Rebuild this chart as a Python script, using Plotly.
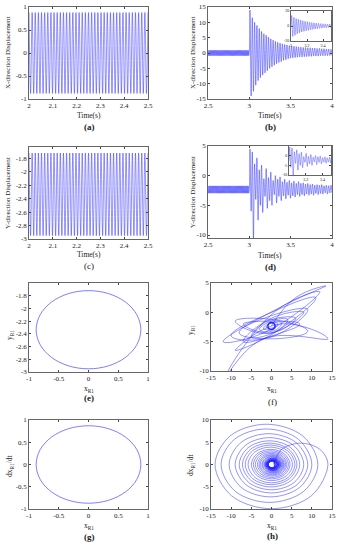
import plotly.graph_objects as go

# ---------------- data ----------------
# steady-state extremum times (2.0 - 2.5 s)
T_SS = [2.0000, 2.0066, 2.0132, 2.0197, 2.0263, 2.0329, 2.0395, 2.0461, 2.0526, 2.0592,
        2.0658, 2.0724, 2.0790, 2.0855, 2.0921, 2.0987, 2.1053, 2.1119, 2.1184, 2.1250,
        2.1316, 2.1382, 2.1448, 2.1513, 2.1579, 2.1645, 2.1711, 2.1777, 2.1842, 2.1908,
        2.1974, 2.2040, 2.2106, 2.2171, 2.2237, 2.2303, 2.2369, 2.2435, 2.2500, 2.2566,
        2.2632, 2.2698, 2.2764, 2.2829, 2.2895, 2.2961, 2.3027, 2.3093, 2.3158, 2.3224,
        2.3290, 2.3356, 2.3422, 2.3487, 2.3553, 2.3619, 2.3685, 2.3751, 2.3816, 2.3882,
        2.3948, 2.4014, 2.4080, 2.4145, 2.4211, 2.4277, 2.4343, 2.4409, 2.4474, 2.4540,
        2.4606, 2.4672, 2.4738, 2.4803, 2.4869, 2.4935, 2.5000]
X_SS_HI, X_SS_LO = 0.88, -0.88
Y_SS_HI, Y_SS_LO = -1.72, -2.95
PRE_SHIFT = 0.5  # the same steady state shown again before the impact (2.5-3 s)

# post-impact extremum times (3 - 4 s)
T_POST = [3.000, 3.008, 3.022, 3.036, 3.050, 3.064, 3.078, 3.092, 3.106, 3.120,
          3.134, 3.148, 3.162, 3.176, 3.190, 3.204, 3.218, 3.232, 3.246, 3.260,
          3.274, 3.288, 3.302, 3.316, 3.330, 3.344, 3.358, 3.372, 3.386, 3.400,
          3.414, 3.428, 3.442, 3.456, 3.470, 3.484, 3.498, 3.512, 3.526, 3.540,
          3.554, 3.568, 3.582, 3.596, 3.610, 3.624, 3.638, 3.652, 3.666, 3.680,
          3.694, 3.708, 3.722, 3.736, 3.750, 3.764, 3.778, 3.792, 3.806, 3.820,
          3.834, 3.848, 3.862, 3.876, 3.890, 3.904, 3.918, 3.932, 3.946, 3.960,
          3.974, 3.988, 4.000]
X_POST = [0.5, 14.0, -14.0, 11.5, -12.5, 10.0, -10.5, 9.0, -9.0, 8.0,
          -8.0, 7.0, -7.2, 6.3, -6.5, 5.8, -5.8, 5.2, -5.0, 4.6,
          -4.5, 4.2, -4.0, 3.8, -3.5, 3.5, -3.1, 3.2, -2.8, 3.0,
          -2.4, 2.8, -2.2, 2.6, -1.9, 2.4, -1.7, 2.3, -1.6, 2.2,
          -1.5, 2.1, -1.4, 2.0, -1.3, 1.9, -1.3, 1.8, -1.2, 1.8,
          -1.2, 1.7, -1.1, 1.7, -1.1, 1.6, -1.0, 1.6, -1.0, 1.5,
          -1.0, 1.5, -0.9, 1.4, -0.9, 1.4, -0.9, 1.3, -0.9, 1.3,
          -0.8, 1.2, -0.8]
Y_POST = [-2.3, 4.5, -6.0, 4.0, -10.5, 2.0, -4.0, 3.0, -7.5, 1.0,
          -5.0, 1.8, -6.2, -0.5, -3.5, 1.2, -5.5, -0.3, -4.2, 0.6,
          -5.0, -0.8, -3.2, 0.0, -4.6, -0.6, -3.5, -0.2, -4.2, -1.0,
          -3.4, -0.6, -3.9, -1.1, -3.3, -0.8, -3.8, -1.2, -3.4, -0.9,
          -3.6, -1.3, -3.2, -1.0, -3.5, -1.3, -3.2, -1.2, -3.4, -1.4,
          -3.1, -1.3, -3.3, -1.5, -3.1, -1.4, -3.3, -1.6, -3.0, -1.5,
          -3.2, -1.6, -3.0, -1.5, -3.1, -1.7, -2.9, -1.6, -3.1, -1.7,
          -2.9, -1.6, -2.9]

# steady-state orbit (e), (g)
E_X = [0.88, 0.813, 0.622, 0.337, 0.0, -0.337, -0.622, -0.813, -0.88,
       -0.813, -0.622, -0.337, 0.0, 0.337, 0.622, 0.813, 0.88]
E_Y = [-2.335, -2.10, -1.90, -1.767, -1.72, -1.767, -1.90, -2.10, -2.335,
       -2.57, -2.77, -2.903, -2.95, -2.903, -2.77, -2.57, -2.335]
G_V = [0.0, 0.333, 0.615, 0.804, 0.87, 0.804, 0.615, 0.333, 0.0,
       -0.333, -0.615, -0.804, -0.87, -0.804, -0.615, -0.333, 0.0]

# transient orbit in the x-y plane (f)
F_X = [0.0, 6.0, 13.5, 2.0, -12.0, -1.0, 12.0, 1.0, -11.0, -2.0,
       14.0, 2.0, -9.0, 0.0, 11.0, 0.0, -10.0, 0.0, 9.0, -1.0,
       -8.0, 1.0, 9.0, 0.0, -9.0, -1.0, 8.0, 0.0, -7.0, 1.0,
       7.0, 0.0, -7.0, 0.0, 6.0, -1.0, -5.0, 1.0, 4.0, -0.5,
       -3.0, 0.8, 2.5, -0.5, -2.0, 0.6, 1.5, -0.6, -1.3, 0.5, 1.0]
F_Y = [-2.3, 2.5, 4.5, 0.8, -5.0, -3.2, 3.5, 0.2, -10.5, -4.5,
       -4.5, -2.0, -6.5, -3.8, 2.5, 0.0, -4.0, -4.2, 0.5, -0.8,
       -3.5, -4.5, -3.2, -1.2, -1.5, -3.6, 0.0, -1.0, -5.0, -3.8,
       -2.0, -1.5, -2.0, -3.5, -1.0, -1.5, -4.2, -3.3, -1.2, -1.6,
       -3.0, -3.1, -1.8, -1.9, -2.8, -2.8, -1.9, -2.0, -2.6, -2.6, -2.1]

V_SCALE = 0.71  # velocity swing per displacement swing, read from (h)
DIAG = 0.707    # 45-degree point of each half loop

# tick labels
TK_T1 = [2, 2.1, 2.2, 2.3, 2.4, 2.5]
TK_T2 = [2.5, 3, 3.5, 4]
TK_XA = [-1, -0.5, 0, 0.5, 1]
TK_XB = [-15, -10, -5, 0, 5, 10, 15]
TK_YC = [-3, -2.8, -2.6, -2.4, -2.2, -2, -1.8]
TK_YD = [-10, -5, 0, 5]
TK_H = [-10, -5, 0, 5, 10]

# ---------------- build series from the data ----------------
x_ss = [X_SS_HI if i % 2 == 0 else X_SS_LO for i in range(len(T_SS))]
y_ss = [Y_SS_HI if i % 2 == 0 else Y_SS_LO for i in range(len(T_SS))]
t_pre = [t + PRE_SHIFT for t in T_SS[:-1]]
t_full = t_pre + T_POST
x_full = x_ss[:-1] + X_POST
y_full = y_ss[:-1] + Y_POST

# phase portrait x vs dx/dt from post-impact extrema
hx, hv = [], []
for i in range(len(X_POST) - 1):
    a, b = X_POST[i], X_POST[i + 1]
    c, r = (a + b) / 2, (a - b) / 2
    vm = -V_SCALE * r
    hx += [a, c + r * DIAG, c, c - r * DIAG]
    hv += [0.0, vm * DIAG, vm, vm * DIAG]
hx.append(X_POST[-1]); hv.append(0.0)

W, H = 340, 550
BLUE = 'rgb(40,40,255)'
FONT = 'Liberation Serif'

def dom(x0, x1, y0, y1):
    return [x0 / W, x1 / W], [1 - y1 / H, 1 - y0 / H]

def axis(domain, rng, ticks, anchor, size=7):
    return dict(domain=domain, range=rng, tickvals=ticks,
                ticktext=['%g' % v for v in ticks],
                ticks='inside', ticklen=2, tickwidth=0.5, tickcolor='#444',
                showline=True, linecolor='#666', linewidth=0.7, mirror='ticks',
                showgrid=False, zeroline=False, anchor=anchor, automargin=False,
                ticklabeloverflow='allow',
                tickfont=dict(family=FONT, size=size, color='#222'))

panels = [
    ('a', 29, 148, 7, 99, [2, 2.5], TK_T1, [-1, 1], TK_XA),
    ('b', 208, 332, 7, 99, [2.5, 4.0005], TK_T2, [-15, 15], TK_XB),
    ('c', 29, 148, 147, 239, [2, 2.5], TK_T1, [-3, -1.63], TK_YC),
    ('d', 208, 332, 146, 238, [2.5, 4.0005], TK_T2, [-10.5, 5], TK_YD),
    ('e', 29, 148, 283, 372, [-1, 1], TK_XA, [-3, -1.6], TK_YC),
    ('f', 211, 332, 283, 371, [-15, 15.01], TK_XB, [-10, 5], TK_YD),
    ('g', 29, 148, 420, 509, [-1, 1], TK_XA, [-1, 1], TK_XA),
    ('h', 211, 332, 420, 509, [-15, 15.01], TK_XB, [-10, 10], TK_H),
]

fig = go.Figure()
layout = {}
for k, (nm, x0, x1, y0, y1, xr, xt, yr, yt) in enumerate(panels, start=1):
    dx, dy = dom(x0, x1, y0, y1)
    sx = '' if k == 1 else str(k)
    layout['xaxis' + sx] = axis(dx, xr, xt, 'y' + sx)
    layout['yaxis' + sx] = axis(dy, yr, yt, 'x' + sx)

# insets
dx, dy = dom(291, 331, 11, 41)
layout['xaxis9'] = axis(dx, [3, 3.5], [3, 3.2, 3.4], 'y9', size=4)
layout['yaxis9'] = axis(dy, [-20, 20], [-20, 0, 20], 'x9', size=4)
dx, dy = dom(289, 331, 146, 175)
layout['xaxis10'] = axis(dx, [3, 3.5], [3.2, 3.4], 'y10', size=4)
layout['yaxis10'] = axis(dy, [-10, 5], [-10, -5, 0], 'x10', size=4)

def line(x, y, ax, w=0.5, sm=1.0):
    xa = 'x' if ax == 1 else 'x%d' % ax
    ya = 'y' if ax == 1 else 'y%d' % ax
    fig.add_trace(go.Scatter(x=x, y=y, mode='lines', xaxis=xa, yaxis=ya,
                             line=dict(color=BLUE, width=w, shape='spline', smoothing=sm),
                             hoverinfo='skip'))

line(T_SS, x_ss, 1)
line(t_full, x_full, 2)
line(T_SS, y_ss, 3)
line(t_full, y_full, 4)
line(E_X, E_Y, 5, 0.6)
line(F_X, F_Y, 6, 0.5, 1.3)
line(E_X, E_Y, 6, 1.5)
line(E_X, G_V, 7, 0.6)
line(hx, hv, 8, 0.5, 1.0)
line(E_X, G_V, 8, 1.5)
line(t_full, x_full, 9, 0.4)
line(t_full, y_full, 10, 0.4)

def ann(text, px, py, size=7.5, angle=0, bold=False):
    if bold:
        text = '<b>' + text + '</b>'
    return dict(text=text, x=px / W, y=1 - py / H, xref='paper', yref='paper',
                showarrow=False, xanchor='center', yanchor='middle', textangle=angle,
                font=dict(family=FONT, size=size, color='#222'))

anns = [
    ann('X-direction Displacement', 8, 53, 7, -90),
    ann('X-direction Displacement', 193, 53, 7, -90),
    ann('Y-direction Displacement', 8, 193, 7, -90),
    ann('Y-direction Displacement', 193, 192, 7, -90),
    ann('y<sub>R1</sub>', 10, 335, 7.5, -90),
    ann('y<sub>R1</sub>', 191, 330, 7.5, -90),
    ann('dx<sub>R1</sub>/dt', 10, 466, 7.5, -90),
    ann('dx<sub>R1</sub>/dt', 191, 465, 7.5, -90),
    ann('Time(s)', 89, 115), ann('Time(s)', 270, 115),
    ann('Time(s)', 89, 254), ann('Time(s)', 270, 255),
    ann('x<sub>R1</sub>', 89, 389), ann('x<sub>R1</sub>', 272, 389),
    ann('x<sub>R1</sub>', 89, 526), ann('x<sub>R1</sub>', 272, 526),
    ann('(a)', 89, 127, 9, bold=True), ann('(b)', 270, 127, 9, bold=True),
    ann('(c)', 89, 266, 9), ann('(d)', 270, 267, 9, bold=True),
    ann('(e)', 89, 398, 9, bold=True), ann('(f)', 272, 402, 9),
    ann('(g)', 89, 537, 9, bold=True), ann('(h)', 272, 536, 9, bold=True),
]

fig.update_layout(width=W, height=H, margin=dict(l=0, r=0, t=0, b=0),
                  paper_bgcolor='white', plot_bgcolor='white', showlegend=False,
                  annotations=anns, **layout)
fig.write_html('out.html', config={'displayModeBar': False},
               post_script="document.body.style.margin='0';document.body.style.padding='0';")
